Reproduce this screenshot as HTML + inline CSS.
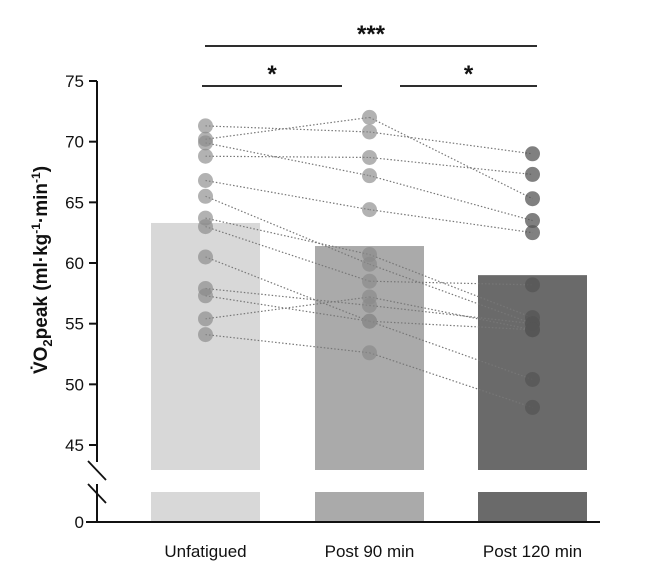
<!DOCTYPE html>
<html><head><meta charset="utf-8"><style>
body{margin:0;background:#fff;}
svg text{font-family:"Liberation Sans",Arial,sans-serif;}
</style></head><body>
<svg id="chart" width="660" height="575" viewBox="0 0 660 575" xmlns="http://www.w3.org/2000/svg"></svg>
<script>
const categories = ["Unfatigued","Post 90 min","Post 120 min"];
const barMeans = [63.3, 61.4, 59.0];
const unfatigued = [71.3, 70.2, 69.9, 68.8, 66.8, 65.5, 63.7, 63.0, 60.5, 57.9, 57.3, 55.4, 54.1];
const post90     = [70.8, 72.0, 67.2, 68.7, 64.4, 59.9, 60.7, 58.5, 55.2, 56.5, 55.2, 57.2, 52.6];
const post120    = [69.0, 65.3, 63.5, 67.3, 62.5, 55.0, 55.5, 58.2, 50.4, 55.0, 54.5, 54.5, 48.1];
const yTicks = [45, 50, 55, 60, 65, 70, 75];
const sigLabels = ["*", "*", "***"];

const NS="http://www.w3.org/2000/svg";
const svg=document.getElementById('chart');
function mk(tag, attrs, parent){const e=document.createElementNS(NS,tag);for(const k in attrs)e.setAttribute(k,attrs[k]);(parent||svg).appendChild(e);return e;}
const yScale=v=>445-(v-45)*12.133;
const y0=522, brkTop=470, brkBot=492;
const barX=[151,315,478], barW=109;
const xCenter=i=>barX[i]+barW/2;
const fills=["#d8d8d8","#aaaaaa","#6a6a6a"];

// bars
categories.forEach((c,i)=>{
  const top=mk('rect',{x:barX[i],y:yScale(barMeans[i]),width:barW,height:brkTop-yScale(barMeans[i]),fill:fills[i]});
  
  
  const bot=mk('rect',{x:barX[i],y:brkBot,width:barW,height:y0-brkBot,fill:fills[i]});
  
  
  const t=mk('text',{x:xCenter(i),y:557,'text-anchor':'middle','font-size':'17',fill:'#111'});
  t.textContent=c;
  
  
});

// lines & points
const series=[unfatigued,post90,post120];
for(let s=0;s<unfatigued.length;s++){
  for(let k=0;k<2;k++){
    const l=mk('line',{x1:xCenter(k),y1:yScale(series[k][s]),x2:xCenter(k+1),y2:yScale(series[k+1][s]),stroke:'#777','stroke-width':1.2,'stroke-dasharray':'1.5,2'});
    
    
  }
}
series.forEach((arr,k)=>arr.forEach(v=>{
  const c=mk('circle',{cx:xCenter(k),cy:yScale(v),r:7.5,fill:k==2?'#555':'#888','fill-opacity':k==2?0.75:0.65});
  
  
}));

// axes
const ax=mk('g',{});


mk('line',{x1:97,y1:yScale(75),x2:97,y2:462,stroke:'#111','stroke-width':2},ax);
mk('line',{x1:97,y1:484,x2:97,y2:y0,stroke:'#111','stroke-width':2},ax);
mk('line',{x1:88,y1:461,x2:106,y2:480,stroke:'#111','stroke-width':1.8},ax);
mk('line',{x1:88,y1:484,x2:106,y2:503,stroke:'#111','stroke-width':1.8},ax);
mk('line',{x1:86,y1:y0,x2:600,y2:y0,stroke:'#111','stroke-width':2},ax);
mk('line',{x1:86,y1:y0,x2:97,y2:y0,stroke:'#111','stroke-width':2},ax);
yTicks.forEach(v=>{
  mk('line',{x1:89,y1:yScale(v),x2:97,y2:yScale(v),stroke:'#111','stroke-width':2},ax);
  const t=mk('text',{x:84,y:yScale(v)+6,'text-anchor':'end','font-size':'17',fill:'#111'},ax);
  t.textContent=v;
});
const t0=mk('text',{x:84,y:y0+6,'text-anchor':'end','font-size':'17',fill:'#111'},ax);t0.textContent='0';

// y title
const yt=mk('text',{transform:'translate(47,270) rotate(-90)','text-anchor':'middle','font-size':'19','font-weight':'bold',fill:'#111'});


yt.innerHTML='V̇O<tspan font-size="13" dy="5">2</tspan><tspan dy="-5">peak (ml·kg</tspan><tspan font-size="12" dy="-7">-1</tspan><tspan dy="7">·min</tspan><tspan font-size="12" dy="-7">-1</tspan><tspan dy="7">)</tspan>';

// significance
const sig=[[202,342,86],[400,537,86],[205,537,46]];
sig.forEach((s,i)=>{
  const g=mk('g',{});
  
  
  mk('line',{x1:s[0],y1:s[2],x2:s[1],y2:s[2],stroke:'#111','stroke-width':1.8},g);
  const t=mk('text',{x:(s[0]+s[1])/2,y:s[2]-4,'text-anchor':'middle','font-size':'24','font-weight':'bold',fill:'#111'},g);
  t.textContent=sigLabels[i];
});
</script>
</body></html>
